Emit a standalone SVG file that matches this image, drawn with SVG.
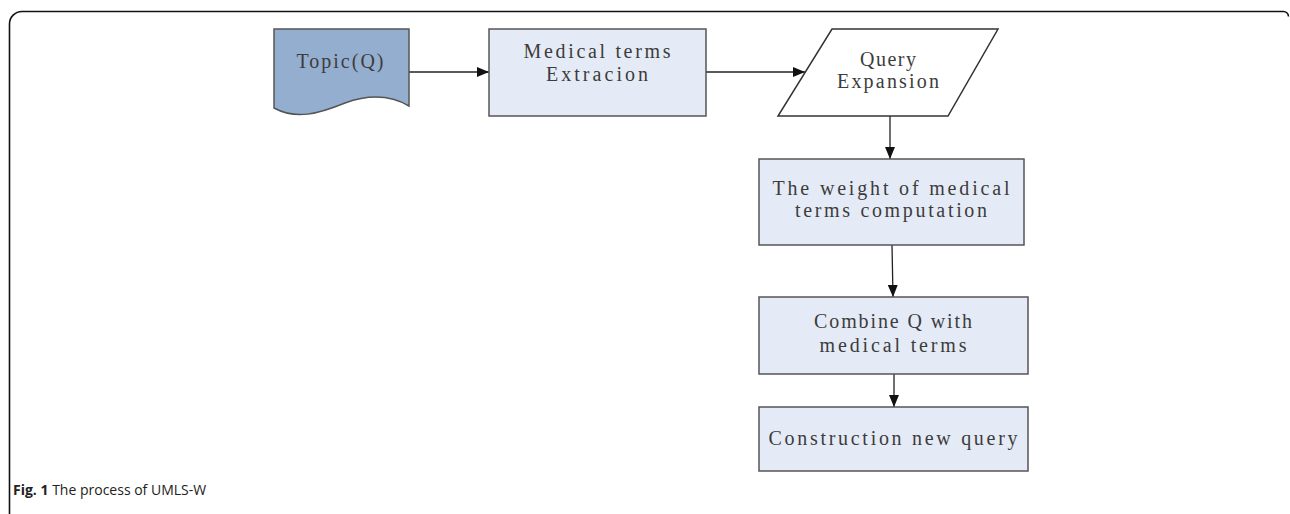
<svg xmlns="http://www.w3.org/2000/svg" width="1290" height="514" viewBox="0 0 1290 514">
<defs>
<style>
.box{fill:#e5ebf6;stroke:#555;stroke-width:1.5}
.doc{fill:#94aecf;stroke:#555;stroke-width:1.5}
.para{fill:#fff;stroke:#333;stroke-width:1.5}
.t{font-family:"Liberation Serif",serif;font-size:20px;fill:#3c3c3c;text-anchor:middle}
.edge{stroke:#222;stroke-width:1.3;fill:none;marker-end:url(#ah)}
.cap{font-family:"Open Sans","Liberation Sans",sans-serif;font-size:14px;fill:#222}
</style>
<marker id="ah" markerWidth="12" markerHeight="10" refX="12" refY="5" orient="auto" markerUnits="userSpaceOnUse">
<path d="M0,0 L12,5 L0,10 Z" fill="#111"/>
</marker>
</defs>
<rect width="1290" height="514" fill="#fff"/>
<path d="M9.5,514 V24 A12.5,12.5 0 0 1 22,11.5 H1283 A5,5 0 0 1 1288.5,16.5" fill="none" stroke="#111" stroke-width="1.6"/>
<g id="edges">
<path class="edge" d="M409,72 H489"/>
<path class="edge" d="M706,72 H805"/>
<path class="edge" d="M890,116 V159"/>
<path class="edge" d="M892,245 L893,297"/>
<path class="edge" d="M894,374 V407"/>
</g>
<g id="topic">
<path class="doc" d="M274,29 H409 V106 C392,96 370,94 345,103 C318,114 296,120 274,108 Z"/>
<text class="t" x="340" y="68" textLength="87" lengthAdjust="spacing">Topic(Q)</text>
</g>
<g id="extraction">
<rect class="box" x="489" y="29" width="217" height="87"/>
<text class="t" x="597" y="58" textLength="147" lengthAdjust="spacing">Medical terms</text>
<text class="t" x="597" y="81" textLength="102" lengthAdjust="spacing">Extracion</text>
</g>
<g id="expansion">
<path class="para" d="M832,29 H998 L948,116 H778 Z"/>
<text class="t" x="888" y="66" textLength="56" lengthAdjust="spacing">Query</text>
<text class="t" x="888" y="88" textLength="102" lengthAdjust="spacing">Expansion</text>
</g>
<g id="weight">
<rect class="box" x="759" y="159" width="265" height="86"/>
<text class="t" x="891" y="195" textLength="237" lengthAdjust="spacing">The weight of medical</text>
<text class="t" x="891" y="217" textLength="192" lengthAdjust="spacing">terms computation</text>
</g>
<g id="combine">
<rect class="box" x="759" y="297" width="269" height="77"/>
<text class="t" x="893" y="328" textLength="158" lengthAdjust="spacing">Combine Q with</text>
<text class="t" x="893" y="352" textLength="147" lengthAdjust="spacing">medical terms</text>
</g>
<g id="construction">
<rect class="box" x="759" y="407" width="269" height="64"/>
<text class="t" x="893" y="445" textLength="249" lengthAdjust="spacing">Construction new query</text>
</g>
<text class="cap" x="13" y="495"><tspan font-weight="bold">Fig. 1</tspan> The process of UMLS-W</text>
</svg>
